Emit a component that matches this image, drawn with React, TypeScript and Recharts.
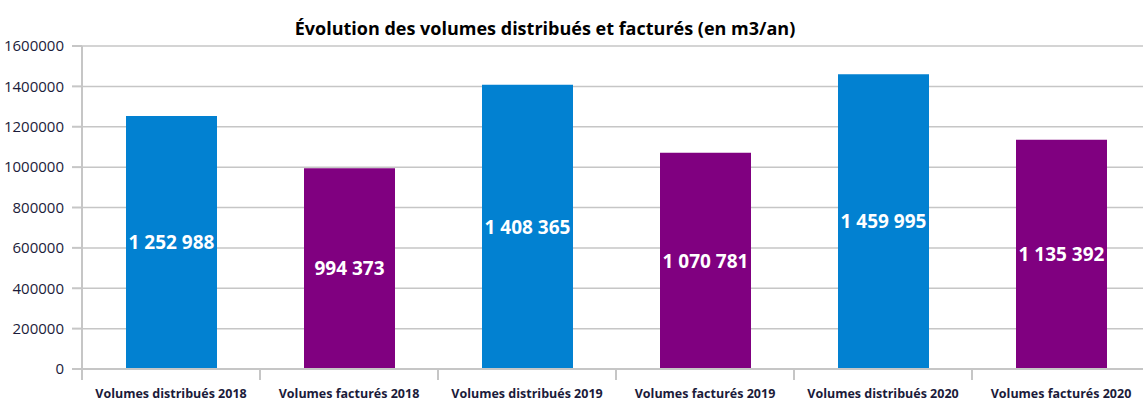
import React from "react";
import {
  BarChart,
  Bar,
  XAxis,
  YAxis,
  CartesianGrid,
  Cell,
  LabelList
} from "recharts";

const categories = [
  "Volumes distribués 2018",
  "Volumes facturés 2018",
  "Volumes distribués 2019",
  "Volumes facturés 2019",
  "Volumes distribués 2020",
  "Volumes facturés 2020"
];
const volumes = [1252988, 994373, 1408365, 1070781, 1459995, 1135392];
const barColors = ["#0281d1", "#800080", "#0281d1", "#800080", "#0281d1", "#800080"];
const yTicks = [0, 200000, 400000, 600000, 800000, 1000000, 1200000, 1400000, 1600000];

const SHIFT = 40; // chart starts left of the page edge, like in the source
const AXIS_X = 122;
const PLOT_W = 1068;
const BAND = PLOT_W / categories.length;
const FONT = "'Open Sans', 'DejaVu Sans', sans-serif";
const GRID = "#c6c6c6";

const data = categories.map((name, i) => ({ name, value: volumes[i], color: barColors[i] }));

const fmt = (v: number) => String(v).replace(/\B(?=(\d{3})+(?!\d))/g, " ");

function CategoryTick(props: any) {
  const { x, y, payload, index } = props;
  const last = index === categories.length - 1;
  return (
    <g>
      <line x1={x - BAND / 2} x2={x - BAND / 2} y1={y - 8} y2={y + 3} stroke={GRID} strokeWidth={2} />
      {last && (
        <line x1={x + BAND / 2} x2={x + BAND / 2} y1={y - 8} y2={y + 3} stroke={GRID} strokeWidth={2} />
      )}
      <text
        x={x}
        y={y + 21}
        textAnchor="middle"
        fill="#1b1b3a"
        fontFamily={FONT}
        fontWeight={700}
        fontSize={12.5}
      >
        {payload.value}
      </text>
    </g>
  );
}

export default function App() {
  return (
    <div
      style={{
        position: "fixed",
        left: 0,
        top: 0,
        width: 1143,
        height: 403,
        overflow: "hidden",
        background: "#fff"
      }}
    >
      <div
        style={{
          position: "absolute",
          left: 0,
          width: 1090,
          top: 16,
          textAlign: "center",
          fontFamily: FONT,
          fontWeight: 700,
          fontSize: 18,
          color: "#000"
        }}
      >
        Évolution des volumes distribués et facturés (en m3/an)
      </div>
      <div style={{ position: "absolute", left: -SHIFT, top: 0 }}>
        <BarChart
          width={AXIS_X + PLOT_W}
          height={403}
          data={data}
          margin={{ top: 46, right: 0, bottom: 0, left: 0 }}
        >
          <CartesianGrid vertical={false} stroke={GRID} strokeWidth={1.5} />
          <YAxis
            width={AXIS_X}
            domain={[0, 1600000]}
            ticks={yTicks}
            interval={0}
            tickFormatter={(v) => String(v)}
            tickSize={10}
            tickMargin={8}
            tickLine={{ stroke: GRID, strokeWidth: 2 }}
            axisLine={{ stroke: GRID, strokeWidth: 2 }}
            tick={{ fill: "#1b1b3a", fontSize: 15, fontFamily: FONT }}
          />
          <XAxis
            dataKey="name"
            height={34}
            interval={0}
            tickLine={false}
            axisLine={{ stroke: GRID, strokeWidth: 2 }}
            tick={<CategoryTick />}
          />
          <Bar dataKey="value" barSize={91} isAnimationActive={false}>
            {data.map((d, i) => (
              <Cell key={i} fill={d.color} />
            ))}
            <LabelList
              dataKey="value"
              position="center"
              formatter={(v: any) => fmt(Number(v))}
              fill="#fff"
              fontFamily={FONT}
              fontWeight={700}
              fontSize={19}
            />
          </Bar>
        </BarChart>
      </div>
    </div>
  );
}
